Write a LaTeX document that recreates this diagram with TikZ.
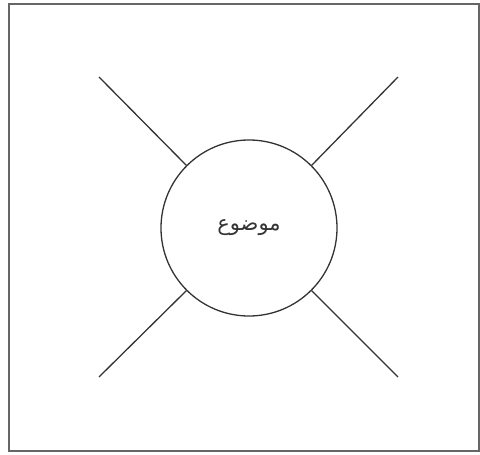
\documentclass[tikz,border=0pt]{standalone}
\usepackage{fontspec}
\newfontfamily\arabicfont[Script=Arabic]{DejaVu Sans}
\TeXXeTstate=1
\definecolor{framec}{HTML}{666666}
\definecolor{linec}{HTML}{333333}
\begin{document}
\begin{tikzpicture}[x=1pt,y=-1pt,
  spoke/.style={draw=linec,line width=1.3pt},
  hub/.style={circle,draw=linec,line width=1.3pt,minimum size=176pt,inner sep=0pt,text=linec,font=\arabicfont\fontsize{21}{24}\selectfont}]
\useasboundingbox (0,0) rectangle (480,455);
\draw[framec,line width=2pt] (9,4) rectangle (479,451);
\node[hub] (c) at (249,228) {\beginR موضوع\endR};
\coordinate (ul) at (99,77);
\coordinate (ur) at (398,77);
\coordinate (ll) at (99,377);
\coordinate (lr) at (398,377);
\draw[spoke] (c.135) -- (ul);
\draw[spoke] (c.45) -- (ur);
\draw[spoke] (c.225) -- (ll);
\draw[spoke] (c.-45) -- (lr);
\end{tikzpicture}
\end{document}
